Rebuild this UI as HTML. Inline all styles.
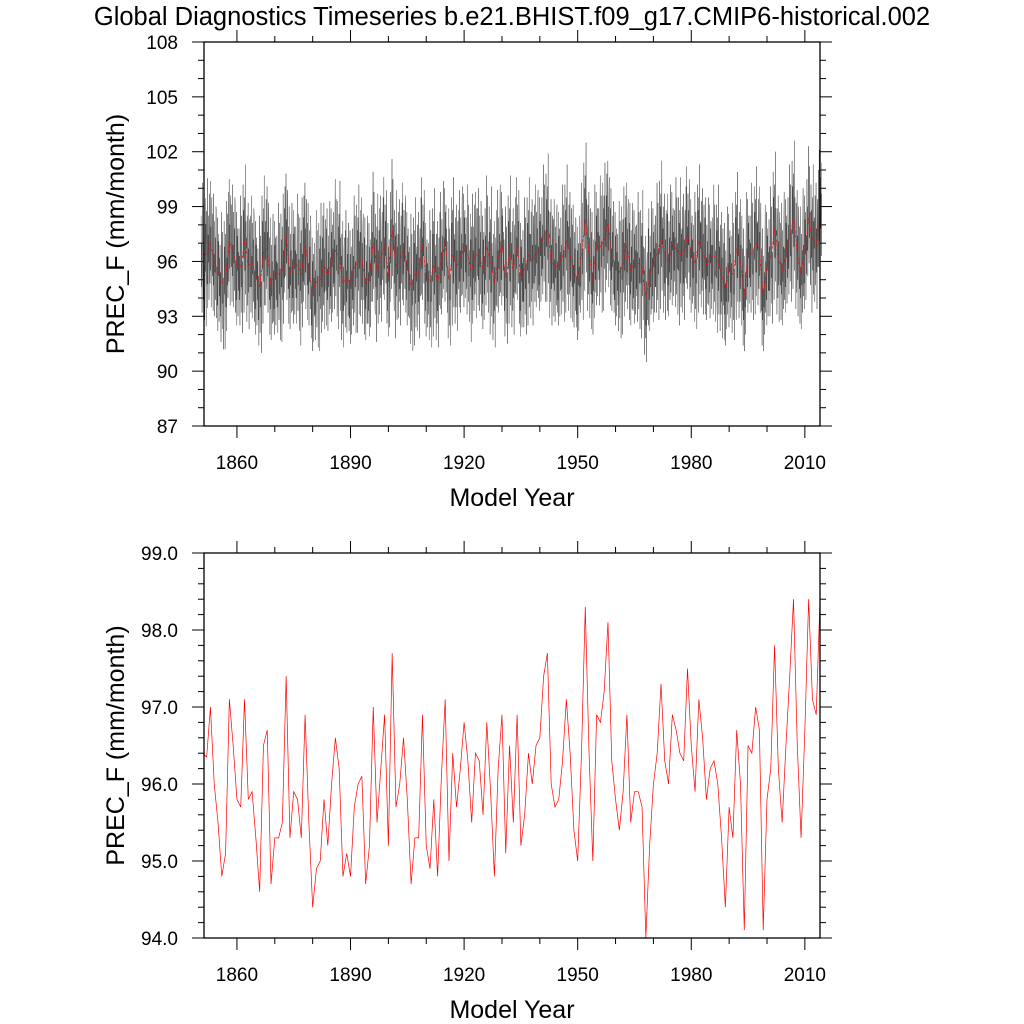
<!DOCTYPE html>
<html><head><meta charset="utf-8"><style>
html,body{margin:0;padding:0;background:#fff;}
svg{display:block;font-family:"Liberation Sans",sans-serif;}
</style></head><body>
<svg id="chart" width="1024" height="1024" viewBox="0 0 1024 1024" xmlns="http://www.w3.org/2000/svg">
<text x="512" y="25" font-size="25.5" text-anchor="middle">Global Diagnostics Timeseries b.e21.BHIST.f09_g17.CMIP6-historical.002</text>
<g id="top"></g>
<g id="bot"></g>
</svg>
<script>
// annual mean PREC_F, years 1851..2014
const annualStartYear = 1851;
const annualValues = [96.4,96.35,97.0,96.0,95.5,94.8,95.1,97.1,96.5,95.8,95.7,97.1,95.8,95.9,95.3,94.6,96.5,96.7,94.7,95.3,
95.3,95.5,97.4,95.3,95.9,95.8,95.3,96.9,95.5,94.4,94.9,95.0,95.8,95.2,96.0,96.6,96.2,94.8,95.1,94.8,
95.7,96.0,96.1,94.7,95.2,97.0,95.5,96.2,96.9,95.2,97.7,95.7,96.0,96.6,95.8,94.7,95.3,95.3,96.9,95.2,
94.9,95.8,94.8,96.1,97.1,95.0,96.4,95.7,96.2,96.8,96.3,95.5,96.4,96.3,95.6,96.8,95.9,94.8,96.2,96.9,
95.1,96.5,95.5,96.9,95.2,95.6,96.4,96.0,96.5,96.6,97.4,97.7,96.0,95.7,95.8,96.3,97.1,96.4,95.4,95.0,
96.4,98.3,96.4,95.0,96.9,96.8,97.2,98.1,96.3,95.8,95.4,95.9,96.9,95.5,95.9,95.9,95.7,94.0,95.2,96.0,
96.4,97.3,96.3,96.0,96.9,96.7,96.4,96.3,97.5,96.5,95.9,97.1,96.6,95.8,96.2,96.3,96.0,95.3,94.4,95.7,
95.3,96.7,96.0,94.1,96.5,96.4,97.0,96.7,94.1,95.8,96.2,97.8,96.2,95.5,96.5,97.4,98.4,96.5,95.3,96.7,
98.4,97.1,96.9,98.4];
// monthly departures from annual mean (estimated, mm/month), repeating block
const monthlyDepartures = [2.1,-1.8,0.6,-3.2,1.4,3.9,-0.7,-2.5,2.8,-1.1,0.3,-3.6,
-2.4,3.1,-0.9,1.7,-3.9,2.4,0.8,-1.6,4.2,-2.9,1.1,-0.4,
1.5,-3.1,2.7,-0.2,-2.2,3.4,-1.5,0.9,-3.5,1.9,2.5,-1.2,
-0.8,2.6,-2.7,3.7,-1.3,0.4,-3.0,2.2,-0.6,1.3,-2.1,3.0,
3.3,-2.6,0.2,-1.9,2.9,-3.3,1.6,-0.3,2.0,-2.8,0.7,-1.4];
const xTicks=[1860,1890,1920,1950,1980,2010];
const topYTicks=[87,90,93,96,99,102,105,108];
const botYTicks=[94.0,95.0,96.0,97.0,98.0,99.0];

const NS="http://www.w3.org/2000/svg";
const X0=204,X1=820,XMIN=1851.3,XMAX=2014;
function xs(t){return X0+(t-XMIN)/(XMAX-XMIN)*(X1-X0);}
function mk(tag,attrs,parent){const e=document.createElementNS(NS,tag);for(const k in attrs)e.setAttribute(k,attrs[k]);parent.appendChild(e);return e;}

function panel(g,Y0,Y1,ymin,ymax,yticks,minorStep,fmt,pfx){
  const ys=v=>Y1-(v-ymin)/(ymax-ymin)*(Y1-Y0);
  const tk=mk('g',{stroke:'#000','stroke-width':1},g);
  
  
  for(let y=1850;y<=2014;y+=10){const x=xs(y);if(x<X0-0.5)continue;const L=(y%30===0)?12:6;
    mk('line',{x1:x,x2:x,y1:Y1,y2:Y1+L},tk);mk('line',{x1:x,x2:x,y1:Y0,y2:Y0-L},tk);}
  const n=Math.round((ymax-ymin)/minorStep);
  const majorEvery=Math.round((yticks[1]-yticks[0])/minorStep);
  for(let i=0;i<=n;i++){const v=ymin+i*minorStep,y=ys(v),L=(i%majorEvery===0)?12:6;
    mk('line',{x1:X0,x2:X0-L,y1:y,y2:y},tk);mk('line',{x1:X1,x2:X1+L,y1:y,y2:y},tk);}
  xTicks.forEach(t=>{const e=mk('text',{x:xs(t),y:Y1+43,'font-size':19,'text-anchor':'middle'},g);e.textContent=t;
    
    });
  yticks.forEach(v=>{const e=mk('text',{x:178,y:ys(v)+7,'font-size':19,'text-anchor':'end'},g);e.textContent=fmt(v);
    
    });
  const xt=mk('text',{x:512,y:Y1+80,'font-size':25,'text-anchor':'middle'},g);xt.textContent='Model Year';
  
  
  const cy=(Y0+Y1)/2;
  const yt=mk('text',{x:0,y:0,'font-size':25,'text-anchor':'middle',transform:`translate(124,${cy}) rotate(-90)`},g);yt.textContent='PREC_F (mm/month)';
  
  
  return ys;
}
function drawFrame(g,Y0,Y1,pfx){const r=mk('rect',{x:X0,y:Y0,width:X1-X0,height:Y1-Y0,fill:'none',stroke:'#000','stroke-width':1.3},g);
  
  }

const gt=document.getElementById('top');
const ysT=panel(gt,42,426,87,108,topYTicks,1,v=>v,'top');
let pm='';
annualValues.forEach((a,i)=>{for(let m=0;m<12;m++){const k=(i*12+m)%monthlyDepartures.length;
  const v=a+monthlyDepartures[k];const t=annualStartYear+i+(m-5.5)/12;
  pm+=(pm?'L':'M')+xs(t).toFixed(2)+','+ysT(v).toFixed(2);}});
const ml=mk('path',{d:pm,fill:'none',stroke:'#333','stroke-width':0.4},gt);


let pa='';annualValues.forEach((v,i)=>{pa+=(pa?'L':'M')+xs(annualStartYear+i).toFixed(2)+','+ysT(v).toFixed(2);});
const al=mk('path',{d:pa,fill:'none',stroke:'#f00','stroke-width':0.6,'stroke-dasharray':'3,1.5'},gt);


drawFrame(gt,42,426,'top');

const gb=document.getElementById('bot');
const ysB=panel(gb,553,938,94,99,botYTicks,0.2,v=>v.toFixed(1),'bottom');
let pb='';annualValues.forEach((v,i)=>{pb+=(pb?'L':'M')+xs(annualStartYear+i).toFixed(2)+','+ysB(v).toFixed(2);});
const bl=mk('path',{d:pb,fill:'none',stroke:'#f00','stroke-width':0.7},gb);


drawFrame(gb,553,938,'bottom');
</script>
</body></html>
